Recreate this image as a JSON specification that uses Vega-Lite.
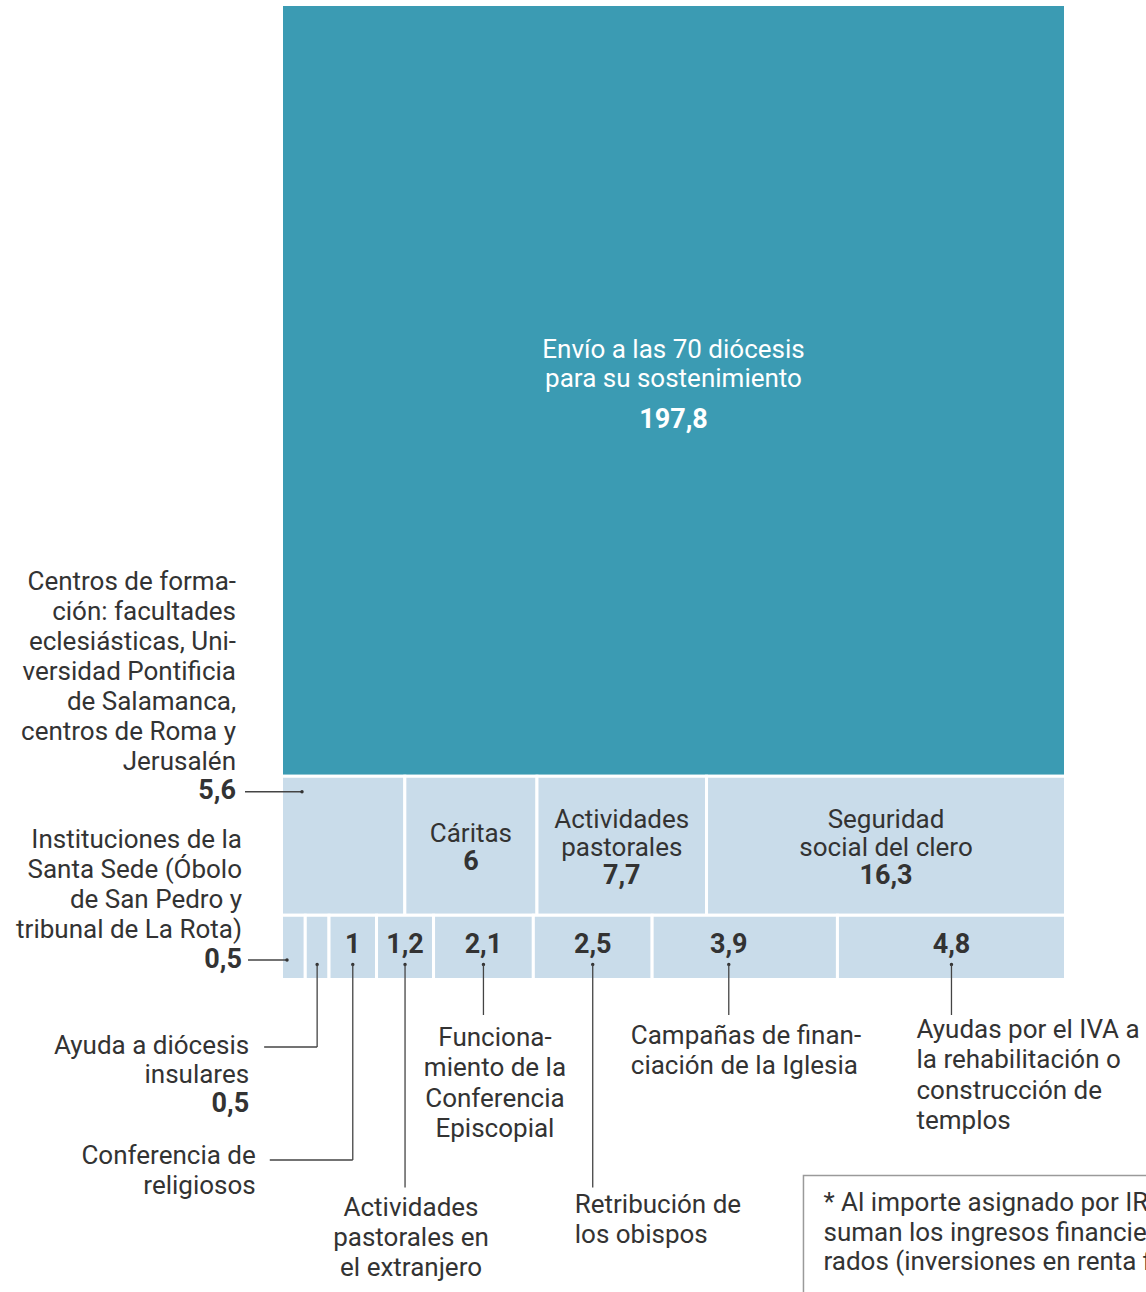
{
  "$schema": "https://vega.github.io/schema/vega-lite/v6.json",
  "width": 1146,
  "height": 1292,
  "autosize": {"type": "none"},
  "padding": 0,
  "background": "white",
  "config": {
    "view": {"stroke": null},
    "locale": {"number": {"decimal": ",", "thousands": ".", "grouping": [3], "currency": ["", " €"]}},
    "text": {"font": "Roboto", "color": "#333333", "fontSize": 26}
  },
  "data": {
    "values": [
      {"orden": 1, "fila": "A", "concepto": "Envío a las 70 diócesis\npara su sostenimiento", "valor": 197.8},
      {"orden": 2, "fila": "B", "concepto": "Centros de forma-\nción: facultades\neclesiásticas, Uni-\nversidad Pontificia\nde Salamanca,\ncentros de Roma y\nJerusalén", "valor": 5.6},
      {"orden": 3, "fila": "B", "concepto": "Cáritas", "valor": 6},
      {"orden": 4, "fila": "B", "concepto": "Actividades\npastorales", "valor": 7.7},
      {"orden": 5, "fila": "B", "concepto": "Seguridad\nsocial del clero", "valor": 16.3},
      {"orden": 6, "fila": "C", "concepto": "Instituciones de la\nSanta Sede (Óbolo\nde San Pedro y\ntribunal de La Rota)", "valor": 0.5},
      {"orden": 7, "fila": "C", "concepto": "Ayuda a diócesis\ninsulares", "valor": 0.5},
      {"orden": 8, "fila": "C", "concepto": "Conferencia de\nreligiosos", "valor": 1},
      {"orden": 9, "fila": "C", "concepto": "Actividades\npastorales en\nel extranjero", "valor": 1.2},
      {"orden": 10, "fila": "C", "concepto": "Funciona-\nmiento de la\nConferencia\nEpiscopial", "valor": 2.1},
      {"orden": 11, "fila": "C", "concepto": "Retribución de\nlos obispos", "valor": 2.5},
      {"orden": 12, "fila": "C", "concepto": "Campañas de finan-\nciación de la Iglesia", "valor": 3.9},
      {"orden": 13, "fila": "C", "concepto": "Ayudas por el IVA a\nla rehabilitación o\nconstrucción de\ntemplos", "valor": 4.8}
    ]
  },
  "transform": [
    {"stack": "valor", "groupby": ["fila"], "sort": [{"field": "orden"}], "offset": "normalize", "as": ["x0", "x1"]},
    {"stack": "valor", "groupby": [], "sort": [{"field": "orden"}], "as": ["c0", "c1"]},
    {"joinaggregate": [{"op": "min", "field": "c0", "as": "y0"}, {"op": "max", "field": "c1", "as": "y1"}], "groupby": ["fila"]},
    {"fold": ["x0", "x1"], "as": ["kx", "vx"]},
    {"joinaggregate": [{"op": "mean", "field": "vx", "as": "xm"}], "groupby": ["orden"]},
    {"filter": "datum.kx == 'x0'"},
    {"fold": ["y0", "y1"], "as": ["ky", "vy"]},
    {"joinaggregate": [{"op": "mean", "field": "vy", "as": "ym"}], "groupby": ["orden"]},
    {"filter": "datum.ky == 'y0'"}
  ],
  "layer": [
    {
      "mark": {"type": "rect", "stroke": "white", "strokeWidth": 3},
      "encoding": {
        "x": {"field": "x0", "type": "quantitative", "scale": {"domain": [-0.35906, 1.10267], "nice": false, "zero": false}, "axis": null},
        "x2": {"field": "x1"},
        "y": {"field": "y0", "type": "quantitative", "scale": {"domain": [-1.1534, 329.99], "nice": false, "zero": false, "reverse": true}, "axis": null},
        "y2": {"field": "y1"},
        "color": {"field": "fila", "type": "nominal", "scale": {"domain": ["A", "B", "C"], "range": ["#3b9bb3", "#c9dcea", "#c9dcea"]}, "legend": null}
      }
    },
    {
      "transform": [{"filter": "datum.orden == 1"}],
      "mark": {"type": "text", "color": "white", "fontSize": 26, "lineHeight": 29, "lineBreak": "\n", "align": "center", "baseline": "middle", "dy": -40},
      "encoding": {
        "x": {"field": "xm", "type": "quantitative", "scale": {"domain": [-0.35906, 1.10267], "nice": false, "zero": false}, "axis": null},
        "y": {"field": "ym", "type": "quantitative", "scale": {"domain": [-1.1534, 329.99], "nice": false, "zero": false, "reverse": true}, "axis": null},
        "text": {"field": "concepto"}
      }
    },
    {
      "transform": [{"filter": "datum.orden == 1"}],
      "mark": {"type": "text", "color": "white", "fontSize": 27, "fontWeight": "bold", "align": "center", "baseline": "middle", "dy": 30},
      "encoding": {
        "x": {"field": "xm", "type": "quantitative", "scale": {"domain": [-0.35906, 1.10267], "nice": false, "zero": false}, "axis": null},
        "y": {"field": "ym", "type": "quantitative", "scale": {"domain": [-1.1534, 329.99], "nice": false, "zero": false, "reverse": true}, "axis": null},
        "text": {"field": "valor", "type": "quantitative", "format": "~g"}
      }
    },
    {
      "transform": [{"filter": "datum.orden == 3"}],
      "mark": {"type": "text", "fontSize": 26, "lineHeight": 28, "lineBreak": "\n", "align": "center", "baseline": "middle", "dy": -12},
      "encoding": {
        "x": {"field": "xm", "type": "quantitative", "scale": {"domain": [-0.35906, 1.10267], "nice": false, "zero": false}, "axis": null},
        "y": {"field": "ym", "type": "quantitative", "scale": {"domain": [-1.1534, 329.99], "nice": false, "zero": false, "reverse": true}, "axis": null},
        "text": {"field": "concepto"}
      }
    },
    {
      "transform": [{"filter": "datum.orden == 4 || datum.orden == 5"}],
      "mark": {"type": "text", "fontSize": 26, "lineHeight": 28, "lineBreak": "\n", "align": "center", "baseline": "middle", "dy": -26},
      "encoding": {
        "x": {"field": "xm", "type": "quantitative", "scale": {"domain": [-0.35906, 1.10267], "nice": false, "zero": false}, "axis": null},
        "y": {"field": "ym", "type": "quantitative", "scale": {"domain": [-1.1534, 329.99], "nice": false, "zero": false, "reverse": true}, "axis": null},
        "text": {"field": "concepto"}
      }
    },
    {
      "transform": [{"filter": "datum.orden == 3"}],
      "mark": {"type": "text", "fontSize": 27, "fontWeight": "bold", "align": "center", "baseline": "middle", "dy": 16},
      "encoding": {
        "x": {"field": "xm", "type": "quantitative", "scale": {"domain": [-0.35906, 1.10267], "nice": false, "zero": false}, "axis": null},
        "y": {"field": "ym", "type": "quantitative", "scale": {"domain": [-1.1534, 329.99], "nice": false, "zero": false, "reverse": true}, "axis": null},
        "text": {"field": "valor", "type": "quantitative", "format": "~g"}
      }
    },
    {
      "transform": [{"filter": "datum.orden == 4 || datum.orden == 5"}],
      "mark": {"type": "text", "fontSize": 27, "fontWeight": "bold", "align": "center", "baseline": "middle", "dy": 30},
      "encoding": {
        "x": {"field": "xm", "type": "quantitative", "scale": {"domain": [-0.35906, 1.10267], "nice": false, "zero": false}, "axis": null},
        "y": {"field": "ym", "type": "quantitative", "scale": {"domain": [-1.1534, 329.99], "nice": false, "zero": false, "reverse": true}, "axis": null},
        "text": {"field": "valor", "type": "quantitative", "format": "~g"}
      }
    },
    {
      "transform": [{"filter": "datum.orden >= 8 && datum.orden != 12"}],
      "mark": {"type": "text", "fontSize": 27, "fontWeight": "bold", "align": "center", "baseline": "middle", "dy": -2},
      "encoding": {
        "x": {"field": "xm", "type": "quantitative", "scale": {"domain": [-0.35906, 1.10267], "nice": false, "zero": false}, "axis": null},
        "y": {"field": "ym", "type": "quantitative", "scale": {"domain": [-1.1534, 329.99], "nice": false, "zero": false, "reverse": true}, "axis": null},
        "text": {"field": "valor", "type": "quantitative", "format": "~g"}
      }
    },
    {
      "transform": [{"filter": "datum.orden == 12"}],
      "mark": {"type": "text", "fontSize": 27, "fontWeight": "bold", "align": "center", "baseline": "middle", "dx": -16, "dy": -2},
      "encoding": {
        "x": {"field": "xm", "type": "quantitative", "scale": {"domain": [-0.35906, 1.10267], "nice": false, "zero": false}, "axis": null},
        "y": {"field": "ym", "type": "quantitative", "scale": {"domain": [-1.1534, 329.99], "nice": false, "zero": false, "reverse": true}, "axis": null},
        "text": {"field": "valor", "type": "quantitative", "format": "~g"}
      }
    },
    {
      "transform": [{"filter": "datum.orden == 2"}],
      "mark": {"type": "text", "fontSize": 26, "lineHeight": 30, "lineBreak": "\n", "align": "right", "baseline": "middle", "dx": -45.5, "dy": -194.5},
      "encoding": {
        "x": {"field": "x0", "type": "quantitative", "scale": {"domain": [-0.35906, 1.10267], "nice": false, "zero": false}, "axis": null},
        "y": {"field": "y0", "type": "quantitative", "scale": {"domain": [-1.1534, 329.99], "nice": false, "zero": false, "reverse": true}, "axis": null},
        "text": {"field": "concepto"}
      }
    },
    {
      "transform": [{"filter": "datum.orden == 2"}],
      "mark": {"type": "text", "fontSize": 27, "fontWeight": "bold", "align": "right", "baseline": "middle", "dx": -45.5, "dy": 14.5},
      "encoding": {
        "x": {"field": "x0", "type": "quantitative", "scale": {"domain": [-0.35906, 1.10267], "nice": false, "zero": false}, "axis": null},
        "y": {"field": "y0", "type": "quantitative", "scale": {"domain": [-1.1534, 329.99], "nice": false, "zero": false, "reverse": true}, "axis": null},
        "text": {"field": "valor", "type": "quantitative", "format": "~g"}
      }
    },
    {
      "transform": [{"filter": "datum.orden == 2"}],
      "mark": {"type": "rule", "color": "#444444", "strokeWidth": 1.3, "xOffset": -36.5, "x2Offset": 20.5, "yOffset": 15.5},
      "encoding": {
        "x": {"field": "x0", "type": "quantitative", "scale": {"domain": [-0.35906, 1.10267], "nice": false, "zero": false}, "axis": null},
        "x2": {"field": "x0"},
        "y": {"field": "y0", "type": "quantitative", "scale": {"domain": [-1.1534, 329.99], "nice": false, "zero": false, "reverse": true}, "axis": null}
      }
    },
    {
      "transform": [{"filter": "datum.orden == 2"}],
      "mark": {"type": "circle", "size": 12, "color": "#333333", "opacity": 1, "xOffset": 20.5, "yOffset": 15.5},
      "encoding": {
        "x": {"field": "x0", "type": "quantitative", "scale": {"domain": [-0.35906, 1.10267], "nice": false, "zero": false}, "axis": null},
        "y": {"field": "y0", "type": "quantitative", "scale": {"domain": [-1.1534, 329.99], "nice": false, "zero": false, "reverse": true}, "axis": null}
      }
    },
    {
      "transform": [{"filter": "datum.orden == 6"}],
      "mark": {"type": "text", "fontSize": 26, "lineHeight": 30, "lineBreak": "\n", "align": "right", "baseline": "middle", "dx": -39.5, "dy": -139.5},
      "encoding": {
        "x": {"field": "x0", "type": "quantitative", "scale": {"domain": [-0.35906, 1.10267], "nice": false, "zero": false}, "axis": null},
        "y": {"field": "y1", "type": "quantitative", "scale": {"domain": [-1.1534, 329.99], "nice": false, "zero": false, "reverse": true}, "axis": null},
        "text": {"field": "concepto"}
      }
    },
    {
      "transform": [{"filter": "datum.orden == 6"}],
      "mark": {"type": "text", "fontSize": 27, "fontWeight": "bold", "align": "right", "baseline": "middle", "dx": -39.5, "dy": -19.5},
      "encoding": {
        "x": {"field": "x0", "type": "quantitative", "scale": {"domain": [-0.35906, 1.10267], "nice": false, "zero": false}, "axis": null},
        "y": {"field": "y1", "type": "quantitative", "scale": {"domain": [-1.1534, 329.99], "nice": false, "zero": false, "reverse": true}, "axis": null},
        "text": {"field": "valor", "type": "quantitative", "format": "~g"}
      }
    },
    {
      "transform": [{"filter": "datum.orden == 6"}],
      "mark": {"type": "rule", "color": "#444444", "strokeWidth": 1.3, "xOffset": -33.5, "x2Offset": 5.5, "yOffset": -19.5},
      "encoding": {
        "x": {"field": "x0", "type": "quantitative", "scale": {"domain": [-0.35906, 1.10267], "nice": false, "zero": false}, "axis": null},
        "x2": {"field": "x0"},
        "y": {"field": "y1", "type": "quantitative", "scale": {"domain": [-1.1534, 329.99], "nice": false, "zero": false, "reverse": true}, "axis": null}
      }
    },
    {
      "transform": [{"filter": "datum.orden == 6"}],
      "mark": {"type": "circle", "size": 12, "color": "#333333", "opacity": 1, "xOffset": 5.5, "yOffset": -19.5},
      "encoding": {
        "x": {"field": "x0", "type": "quantitative", "scale": {"domain": [-0.35906, 1.10267], "nice": false, "zero": false}, "axis": null},
        "y": {"field": "y1", "type": "quantitative", "scale": {"domain": [-1.1534, 329.99], "nice": false, "zero": false, "reverse": true}, "axis": null}
      }
    },
    {
      "transform": [{"filter": "datum.orden >= 7 && datum.orden != 12"}],
      "mark": {"type": "circle", "size": 12, "color": "#333333", "opacity": 1, "yOffset": -15},
      "encoding": {
        "x": {"field": "xm", "type": "quantitative", "scale": {"domain": [-0.35906, 1.10267], "nice": false, "zero": false}, "axis": null},
        "y": {"field": "y1", "type": "quantitative", "scale": {"domain": [-1.1534, 329.99], "nice": false, "zero": false, "reverse": true}, "axis": null}
      }
    },
    {
      "transform": [{"filter": "datum.orden == 12"}],
      "mark": {"type": "circle", "size": 12, "color": "#333333", "opacity": 1, "xOffset": -16, "yOffset": -15},
      "encoding": {
        "x": {"field": "xm", "type": "quantitative", "scale": {"domain": [-0.35906, 1.10267], "nice": false, "zero": false}, "axis": null},
        "y": {"field": "y1", "type": "quantitative", "scale": {"domain": [-1.1534, 329.99], "nice": false, "zero": false, "reverse": true}, "axis": null}
      }
    },
    {
      "transform": [{"filter": "datum.orden == 10 || datum.orden == 13"}],
      "mark": {"type": "rule", "color": "#444444", "strokeWidth": 1.3, "yOffset": -15, "y2Offset": 35.5},
      "encoding": {
        "x": {"field": "xm", "type": "quantitative", "scale": {"domain": [-0.35906, 1.10267], "nice": false, "zero": false}, "axis": null},
        "y": {"field": "y1", "type": "quantitative", "scale": {"domain": [-1.1534, 329.99], "nice": false, "zero": false, "reverse": true}, "axis": null},
        "y2": {"field": "y1"}
      }
    },
    {
      "transform": [{"filter": "datum.orden == 12"}],
      "mark": {"type": "rule", "color": "#444444", "strokeWidth": 1.3, "xOffset": -16, "yOffset": -15, "y2Offset": 35.5},
      "encoding": {
        "x": {"field": "xm", "type": "quantitative", "scale": {"domain": [-0.35906, 1.10267], "nice": false, "zero": false}, "axis": null},
        "y": {"field": "y1", "type": "quantitative", "scale": {"domain": [-1.1534, 329.99], "nice": false, "zero": false, "reverse": true}, "axis": null},
        "y2": {"field": "y1"}
      }
    },
    {
      "transform": [{"filter": "datum.orden == 9 || datum.orden == 11"}],
      "mark": {"type": "rule", "color": "#444444", "strokeWidth": 1.3, "yOffset": -15, "y2Offset": 208},
      "encoding": {
        "x": {"field": "xm", "type": "quantitative", "scale": {"domain": [-0.35906, 1.10267], "nice": false, "zero": false}, "axis": null},
        "y": {"field": "y1", "type": "quantitative", "scale": {"domain": [-1.1534, 329.99], "nice": false, "zero": false, "reverse": true}, "axis": null},
        "y2": {"field": "y1"}
      }
    },
    {
      "transform": [{"filter": "datum.orden == 7"}],
      "mark": {"type": "rule", "color": "#444444", "strokeWidth": 1.3, "yOffset": -15, "y2Offset": 67.5},
      "encoding": {
        "x": {"field": "xm", "type": "quantitative", "scale": {"domain": [-0.35906, 1.10267], "nice": false, "zero": false}, "axis": null},
        "y": {"field": "y1", "type": "quantitative", "scale": {"domain": [-1.1534, 329.99], "nice": false, "zero": false, "reverse": true}, "axis": null},
        "y2": {"field": "y1"}
      }
    },
    {
      "transform": [{"filter": "datum.orden == 7"}],
      "mark": {"type": "rule", "color": "#444444", "strokeWidth": 1.3, "xOffset": -53, "yOffset": 67.5},
      "encoding": {
        "x": {"field": "xm", "type": "quantitative", "scale": {"domain": [-0.35906, 1.10267], "nice": false, "zero": false}, "axis": null},
        "x2": {"field": "xm"},
        "y": {"field": "y1", "type": "quantitative", "scale": {"domain": [-1.1534, 329.99], "nice": false, "zero": false, "reverse": true}, "axis": null}
      }
    },
    {
      "transform": [{"filter": "datum.orden == 8"}],
      "mark": {"type": "rule", "color": "#444444", "strokeWidth": 1.3, "yOffset": -15, "y2Offset": 180.5},
      "encoding": {
        "x": {"field": "xm", "type": "quantitative", "scale": {"domain": [-0.35906, 1.10267], "nice": false, "zero": false}, "axis": null},
        "y": {"field": "y1", "type": "quantitative", "scale": {"domain": [-1.1534, 329.99], "nice": false, "zero": false, "reverse": true}, "axis": null},
        "y2": {"field": "y1"}
      }
    },
    {
      "transform": [{"filter": "datum.orden == 8"}],
      "mark": {"type": "rule", "color": "#444444", "strokeWidth": 1.3, "xOffset": -83, "yOffset": 180.5},
      "encoding": {
        "x": {"field": "xm", "type": "quantitative", "scale": {"domain": [-0.35906, 1.10267], "nice": false, "zero": false}, "axis": null},
        "x2": {"field": "xm"},
        "y": {"field": "y1", "type": "quantitative", "scale": {"domain": [-1.1534, 329.99], "nice": false, "zero": false, "reverse": true}, "axis": null}
      }
    },
    {
      "transform": [{"filter": "datum.orden == 7"}],
      "mark": {"type": "text", "fontSize": 26, "lineHeight": 29, "lineBreak": "\n", "align": "right", "baseline": "middle", "dx": -68, "dy": 66.5},
      "encoding": {
        "x": {"field": "xm", "type": "quantitative", "scale": {"domain": [-0.35906, 1.10267], "nice": false, "zero": false}, "axis": null},
        "y": {"field": "y1", "type": "quantitative", "scale": {"domain": [-1.1534, 329.99], "nice": false, "zero": false, "reverse": true}, "axis": null},
        "text": {"field": "concepto"}
      }
    },
    {
      "transform": [{"filter": "datum.orden == 7"}],
      "mark": {"type": "text", "fontSize": 27, "fontWeight": "bold", "align": "right", "baseline": "middle", "dx": -68, "dy": 124.5},
      "encoding": {
        "x": {"field": "xm", "type": "quantitative", "scale": {"domain": [-0.35906, 1.10267], "nice": false, "zero": false}, "axis": null},
        "y": {"field": "y1", "type": "quantitative", "scale": {"domain": [-1.1534, 329.99], "nice": false, "zero": false, "reverse": true}, "axis": null},
        "text": {"field": "valor", "type": "quantitative", "format": "~g"}
      }
    },
    {
      "transform": [{"filter": "datum.orden == 8"}],
      "mark": {"type": "text", "fontSize": 26, "lineHeight": 30, "lineBreak": "\n", "align": "right", "baseline": "middle", "dx": -97, "dy": 176.5},
      "encoding": {
        "x": {"field": "xm", "type": "quantitative", "scale": {"domain": [-0.35906, 1.10267], "nice": false, "zero": false}, "axis": null},
        "y": {"field": "y1", "type": "quantitative", "scale": {"domain": [-1.1534, 329.99], "nice": false, "zero": false, "reverse": true}, "axis": null},
        "text": {"field": "concepto"}
      }
    },
    {
      "transform": [{"filter": "datum.orden == 9"}],
      "mark": {"type": "text", "fontSize": 26, "lineHeight": 30, "lineBreak": "\n", "align": "center", "baseline": "middle", "dx": 6, "dy": 228.5},
      "encoding": {
        "x": {"field": "xm", "type": "quantitative", "scale": {"domain": [-0.35906, 1.10267], "nice": false, "zero": false}, "axis": null},
        "y": {"field": "y1", "type": "quantitative", "scale": {"domain": [-1.1534, 329.99], "nice": false, "zero": false, "reverse": true}, "axis": null},
        "text": {"field": "concepto"}
      }
    },
    {
      "transform": [{"filter": "datum.orden == 10"}],
      "mark": {"type": "text", "fontSize": 26, "lineHeight": 30.3, "lineBreak": "\n", "align": "center", "baseline": "middle", "dx": 11.5, "dy": 58.5},
      "encoding": {
        "x": {"field": "xm", "type": "quantitative", "scale": {"domain": [-0.35906, 1.10267], "nice": false, "zero": false}, "axis": null},
        "y": {"field": "y1", "type": "quantitative", "scale": {"domain": [-1.1534, 329.99], "nice": false, "zero": false, "reverse": true}, "axis": null},
        "text": {"field": "concepto"}
      }
    },
    {
      "transform": [{"filter": "datum.orden == 11"}],
      "mark": {"type": "text", "fontSize": 26, "lineHeight": 30, "lineBreak": "\n", "align": "left", "baseline": "middle", "dx": -18, "dy": 225.5},
      "encoding": {
        "x": {"field": "xm", "type": "quantitative", "scale": {"domain": [-0.35906, 1.10267], "nice": false, "zero": false}, "axis": null},
        "y": {"field": "y1", "type": "quantitative", "scale": {"domain": [-1.1534, 329.99], "nice": false, "zero": false, "reverse": true}, "axis": null},
        "text": {"field": "concepto"}
      }
    },
    {
      "transform": [{"filter": "datum.orden == 12"}],
      "mark": {"type": "text", "fontSize": 26, "lineHeight": 30, "lineBreak": "\n", "align": "left", "baseline": "middle", "dx": -114, "dy": 56.5},
      "encoding": {
        "x": {"field": "xm", "type": "quantitative", "scale": {"domain": [-0.35906, 1.10267], "nice": false, "zero": false}, "axis": null},
        "y": {"field": "y1", "type": "quantitative", "scale": {"domain": [-1.1534, 329.99], "nice": false, "zero": false, "reverse": true}, "axis": null},
        "text": {"field": "concepto"}
      }
    },
    {
      "transform": [{"filter": "datum.orden == 13"}],
      "mark": {"type": "text", "fontSize": 26, "lineHeight": 30.3, "lineBreak": "\n", "align": "left", "baseline": "middle", "dx": -35, "dy": 50.5},
      "encoding": {
        "x": {"field": "xm", "type": "quantitative", "scale": {"domain": [-0.35906, 1.10267], "nice": false, "zero": false}, "axis": null},
        "y": {"field": "y1", "type": "quantitative", "scale": {"domain": [-1.1534, 329.99], "nice": false, "zero": false, "reverse": true}, "axis": null},
        "text": {"field": "concepto"}
      }
    },
    {
      "transform": [{"filter": "datum.orden == 13"}],
      "mark": {"type": "rect", "fill": "white", "stroke": "#9a9a9a", "strokeWidth": 1.5, "xOffset": -148, "x2Offset": 400, "yOffset": 196, "y2Offset": 400},
      "encoding": {
        "x": {"field": "xm", "type": "quantitative", "scale": {"domain": [-0.35906, 1.10267], "nice": false, "zero": false}, "axis": null},
        "x2": {"field": "xm"},
        "y": {"field": "y1", "type": "quantitative", "scale": {"domain": [-1.1534, 329.99], "nice": false, "zero": false, "reverse": true}, "axis": null},
        "y2": {"field": "y1"}
      }
    },
    {
      "transform": [{"filter": "datum.orden == 13"}],
      "mark": {"type": "text", "fontSize": 26, "lineHeight": 29.5, "align": "left", "baseline": "middle", "dx": -128, "dy": 223.5, "text": ["* Al importe asignado por IRPF se", "suman los ingresos financieros gene-", "rados (inversiones en renta  fija)"]},
      "encoding": {
        "x": {"field": "xm", "type": "quantitative", "scale": {"domain": [-0.35906, 1.10267], "nice": false, "zero": false}, "axis": null},
        "y": {"field": "y1", "type": "quantitative", "scale": {"domain": [-1.1534, 329.99], "nice": false, "zero": false, "reverse": true}, "axis": null}
      }
    }
  ]
}
